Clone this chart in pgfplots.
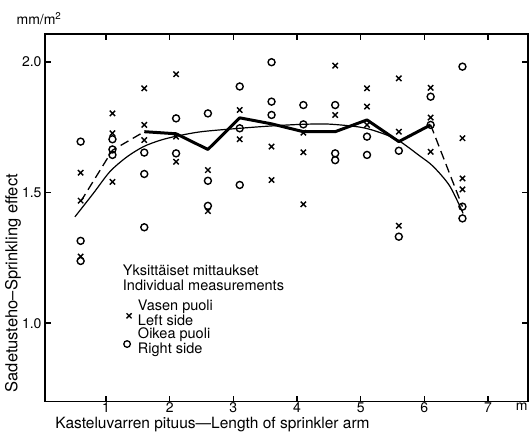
\documentclass[border=0pt]{standalone}
\usepackage{fontspec}
\setmainfont{TeX Gyre Heros}
\usepackage{pgfplots}
\pgfplotsset{compat=1.18}

% individual measurements, left side (x) and right side (o)
\pgfplotstableread{
x y
0.6 1.576
0.6 1.469
0.6 1.255
1.1 1.803
1.1 1.727
1.1 1.541
1.6 1.899
1.6 1.759
1.6 1.701
2.1 1.953
2.1 1.714
2.1 1.618
2.6 1.586
2.6 1.429
3.1 1.816
3.1 1.704
3.6 1.676
3.6 1.548
4.1 1.729
4.1 1.654
4.1 1.455
4.6 1.986
4.6 1.797
5.1 1.899
5.1 1.829
5.1 1.759
5.6 1.937
5.6 1.733
5.6 1.373
6.1 1.901
6.1 1.787
6.1 1.656
6.6 1.708
6.6 1.554
6.6 1.512
}\leftside
\pgfplotstableread{
x y
0.6 1.695
0.6 1.315
0.6 1.238
1.1 1.704
1.1 1.665
1.1 1.644
1.6 1.653
1.6 1.571
1.6 1.367
2.1 1.784
2.1 1.650
2.6 1.803
2.6 1.545
2.6 1.449
3.1 1.906
3.1 1.746
3.1 1.529
3.6 1.999
3.6 1.848
3.6 1.797
4.1 1.835
4.1 1.761
4.6 1.835
4.6 1.650
4.6 1.624
5.1 1.714
5.1 1.644
5.6 1.660
5.6 1.331
6.1 1.867
6.1 1.759
6.6 1.982
6.6 1.446
6.6 1.401
}\rightside

\begin{document}
\begin{tikzpicture}
\begin{axis}[
    at={(0pt,0pt)}, anchor=south west,
    scale only axis, width=483pt, height=367.5pt,
    xmin=0.04, xmax=7.63, ymin=0.7, ymax=2.107,
    xtick={1,2,3,4,5,6,7},
    ytick={1.0,1.5,2.0}, yticklabels={1.0,1.5,2.0},
    tick align=inside, major tick length=6pt,
    tick style={black, line width=1.3pt},
    axis line style={line width=1.5pt},
    /pgf/number format/assume math mode=true,
    ticklabel style={font=\fontsize{14}{14}\selectfont},
    xticklabel style={inner sep=1pt},
    xlabel={Kasteluvarren pituus---Length of sprinkler arm},
    xlabel style={at={(axis description cs:0.021,-0.0735)}, anchor=base west,
        inner sep=0pt, font=\fontsize{15.5}{16}\selectfont},
    ylabel={Sadetusteho--Sprinkling effect},
    ylabel style={at={(axis description cs:-0.0663,0.322)}, anchor=center,
        font=\fontsize{16.5}{17}\selectfont},
    clip=false,
]
% fitted curve
\addplot[black, line width=1.2pt, smooth] coordinates {
    (0.51,1.407) (0.80,1.497) (1.06,1.580) (1.33,1.637) (1.59,1.676)
    (1.85,1.700) (2.11,1.716) (2.50,1.733) (3.10,1.746) (3.60,1.755)
    (4.07,1.761) (4.50,1.762) (5.00,1.750) (5.30,1.730) (5.59,1.700)
    (5.93,1.640) (6.14,1.600) (6.40,1.525) (6.61,1.420)
};
% mean values
\addplot[black, line width=3pt, line join=round] coordinates {
    (1.6,1.733) (2.1,1.725) (2.6,1.665) (3.1,1.786) (3.6,1.763)
    (4.1,1.733) (4.6,1.733) (5.1,1.778) (5.6,1.695) (6.1,1.759)
};
\addplot[black, line width=1.3pt, dash pattern=on 9pt off 5pt] coordinates {
    (0.6,1.465) (1.1,1.662) (1.6,1.733)
};
\addplot[black, line width=1.3pt, dash pattern=on 9pt off 5pt] coordinates {
    (6.1,1.759) (6.6,1.446)
};
% points
\addplot[only marks, mark=x, mark size=3.8pt, mark options={line width=1.4pt, black}]
    table {\leftside};
\addplot[only marks, mark=o, mark size=3.5pt, mark options={line width=1.4pt, black}]
    table {\rightside};
% legend symbols
\addplot[only marks, mark=x, mark size=3.6pt, mark options={line width=1.3pt, black}]
    coordinates {(1.361,1.028)};
\addplot[only marks, mark=o, mark size=3.3pt, mark options={line width=1.3pt, black}]
    coordinates {(1.33,0.920)};

\begin{scope}[font=\fontsize{14.5}{15}\selectfont]
\node[anchor=west, align=left, inner sep=0pt] at (axis cs:1.262,1.174)
    {Yksittäiset mittaukset\\Individual measurements};
\node[anchor=west, align=left, inner sep=0pt] at (axis cs:1.498,1.040)
    {Vasen puoli\\Left side};
\node[anchor=west, align=left, inner sep=0pt] at (axis cs:1.498,0.927)
    {Oikea puoli\\Right side};
\end{scope}
\node[anchor=north, inner sep=1pt, font=\fontsize{14}{14}\selectfont] at (axis cs:7.53,0.7) {m};
\node[anchor=center, font=\fontsize{14}{14}\selectfont] at (axis description cs:-0.0124,1.041) {mm/m\textsuperscript{2}};
\end{axis}
\pgfresetboundingbox
\useasboundingbox (-45pt,-31.5pt) rectangle (484pt,401.5pt);
\end{tikzpicture}
\end{document}
